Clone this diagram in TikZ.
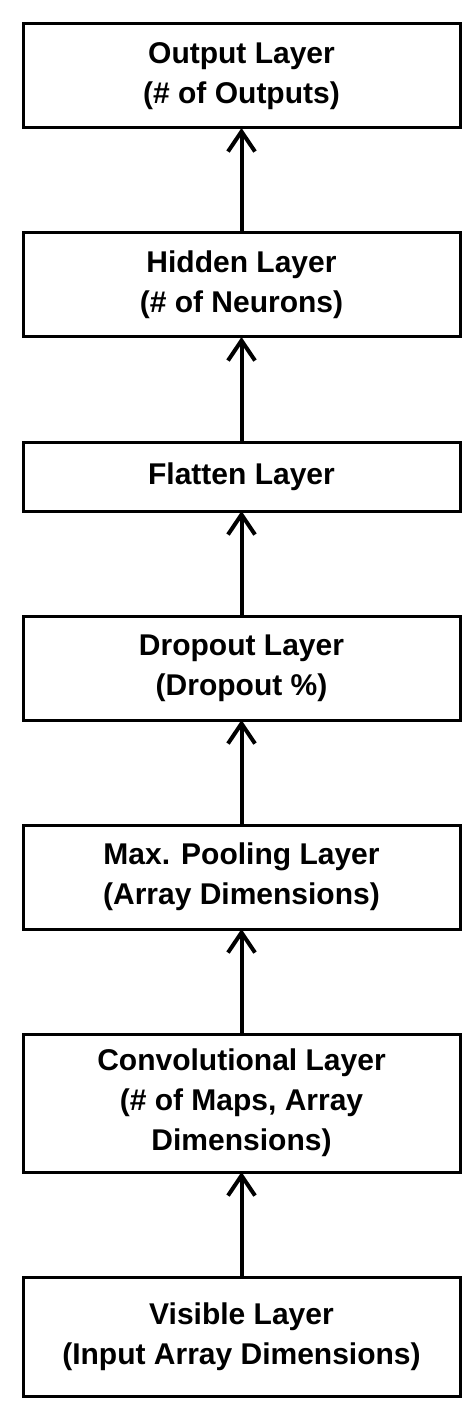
\documentclass[tikz,border=0pt]{standalone}
\usepackage{fontspec}
\setmainfont{Liberation Sans}
\usepackage{tikz}
\usetikzlibrary{positioning,arrows.meta}

\begin{document}
\begin{tikzpicture}[x=0.5pt, y=-0.5pt, node distance=52.5pt,
    layer/.style={draw, line width=1.5pt, minimum width=218.5pt, minimum height=52pt,
        align=center, inner sep=0pt, outer sep=0pt, font=\fontsize{15}{20}\selectfont\bfseries},
    arr/.style={line width=2pt, -{Straight Barb[length=10pt, width=13.5pt]}}]
    \useasboundingbox (0,0) rectangle (472,1417);

    % Layers, bottom to top
    \node[layer, minimum height=59.5pt] (visible) at (241.5,1336.5) {Visible Layer\\(Input Array Dimensions)};
    \node[layer, minimum height=69pt, above=of visible] (conv) {Convolutional Layer\\(\# of Maps, Array\\Dimensions)};
    \node[layer, above=of conv] (pool) {Max. Pooling Layer\\(Array Dimensions)};
    \node[layer, above=of pool] (dropout) {Dropout Layer\\(Dropout \%)};
    \node[layer, minimum height=34.5pt, above=of dropout] (flatten) {Flatten Layer};
    \node[layer, above=of flatten] (hidden) {Hidden Layer\\(\# of Neurons)};
    \node[layer, above=of hidden] (output) {Output Layer\\(\# of Outputs)};

    % Connections
    \draw[arr] (visible) -- (conv);
    \draw[arr] (conv) -- (pool);
    \draw[arr] (pool) -- (dropout);
    \draw[arr] (dropout) -- (flatten);
    \draw[arr] (flatten) -- (hidden);
    \draw[arr] (hidden) -- (output);
\end{tikzpicture}
\end{document}
